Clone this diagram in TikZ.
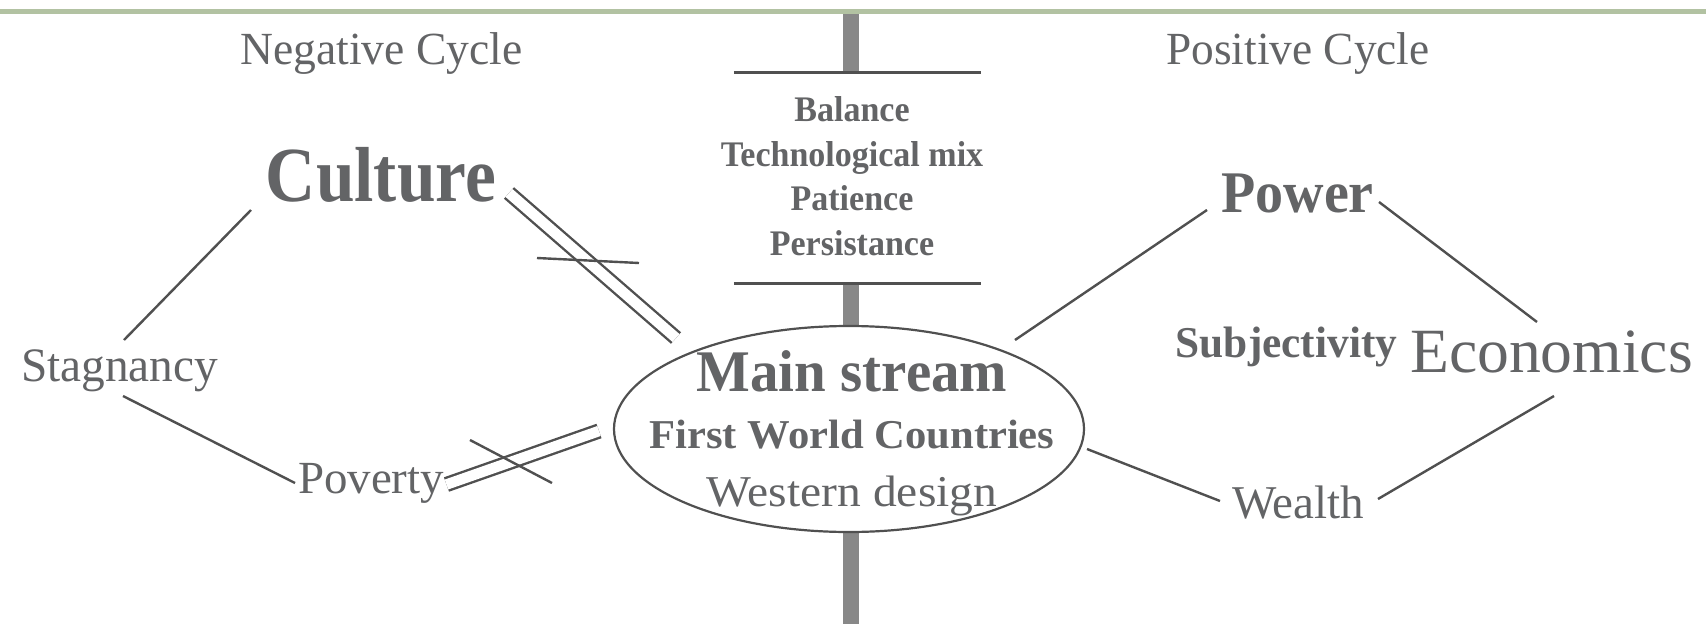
\documentclass[tikz,border=0pt]{standalone}
\usepackage{fontspec}
\setmainfont{Liberation Serif}
\usepackage{graphicx}
\usetikzlibrary{shapes.geometric}
\definecolor{txt}{RGB}{99,100,102}
\definecolor{ln}{RGB}{80,80,80}
\definecolor{barc}{RGB}{136,136,136}
\definecolor{sage}{RGB}{178,194,162}
\newcommand{\fsz}[1]{\fontsize{#1}{#1}\selectfont}
\newcommand{\sxx}[2]{\scalebox{#1}[1]{#2}}
\begin{document}
\begin{tikzpicture}[x=1pt,y=-1pt,
  lbl/.style={anchor=base, inner sep=0pt, outer sep=0pt, text=txt},
  conn/.style={draw=ln, line width=2.4pt},
  dbl/.style={draw=ln, line width=2.4pt, double=white, double distance=10.5pt},
  hline/.style={draw=ln, line width=3pt},
  barline/.style={draw=barc, line width=16pt},
  topline/.style={draw=sage, line width=5pt}]
\useasboundingbox (0,0) rectangle (1706,624);
\fill[white] (0,0) rectangle (1706,624);
% top rule and central bar
\coordinate (bartop) at (851,9);
\coordinate (barbot) at (851,624);
\coordinate (rulel) at (0,11.5);
\coordinate (ruler) at (1706,11.5);
\draw[barline] (bartop) -- (barbot);
\draw[topline] (rulel) -- (ruler);
% virtues block
\node[fill=white, inner sep=0pt, minimum width=247pt, minimum height=210pt] (virt) at (857.5,178) {};
\draw[hline] (virt.north west) -- (virt.north east);
\draw[hline] (virt.south west) -- (virt.south east);
\node[lbl] (bal) at (852,121) {\fsz{36}\bfseries\sxx{0.945}{Balance}};
\node[lbl] (tech) at (852,166) {\fsz{36}\bfseries\sxx{0.945}{Technological mix}};
\node[lbl] (pat) at (852,210) {\fsz{36}\bfseries\sxx{0.945}{Patience}};
\node[lbl] (pers) at (852,255) {\fsz{36}\bfseries\sxx{0.945}{Persistance}};
% main ellipse
\node[ellipse, draw=ln, line width=2.2pt, fill=white, minimum width=470pt, minimum height=206pt, inner sep=0pt] (main) at (849,429) {};
\node[lbl] (ms) at (852,391) {\fsz{59}\bfseries\sxx{0.965}{Main stream}};
\node[lbl] (fwc) at (852,448) {\fsz{41}\bfseries\sxx{1.04}{First World Countries}};
\node[lbl] (wd) at (852,506) {\fsz{44}\sxx{1.08}{Western design}};
% headings
\node[lbl] (neg) at (381.5,64) {\fsz{46}\sxx{0.99}{Negative Cycle}};
\node[lbl] (pos) at (1298,64) {\fsz{46}\sxx{0.985}{Positive Cycle}};
% left cycle
\node[lbl] (cul) at (381,201) {\fsz{78}\bfseries\sxx{0.89}{Culture}};
\node[lbl] (stag) at (119.5,381) {\fsz{48}\sxx{0.985}{Stagnancy}};
\node[lbl] (pov) at (371,493) {\fsz{46}\sxx{1.02}{Poverty}};
% right cycle
\node[lbl] (pow) at (1297.5,212) {\fsz{59}\bfseries\sxx{0.95}{Power}};
\node[lbl] (subj) at (1286.5,357) {\fsz{44}\bfseries\sxx{0.985}{Subjectivity}};
\node[lbl] (econ) at (1551.5,372) {\fsz{63}\sxx{1.01}{Economics}};
\node[lbl] (wea) at (1298,518) {\fsz{47}\sxx{1.0}{Wealth}};
% connector end points
\coordinate (cul-sw) at (251,210);
\coordinate (stag-ne) at (124,340);
\coordinate (stag-se) at (123,396);
\coordinate (pov-w) at (295,483);
\coordinate (cul-se) at (509,193);
\coordinate (main-nw) at (676,338);
\coordinate (pov-e) at (446.5,484.5);
\coordinate (main-w) at (599,431);
\coordinate (main-ne) at (1015,340);
\coordinate (pow-w) at (1207,210);
\coordinate (pow-e) at (1379,202);
\coordinate (econ-nw) at (1537,322);
\coordinate (econ-sw) at (1554,396);
\coordinate (wea-e) at (1378,499);
\coordinate (main-e) at (1087,449);
\coordinate (wea-w) at (1220,501);
% connectors
\draw[conn] (cul-sw) -- (stag-ne);
\draw[conn] (stag-se) -- (pov-w);
\draw[dbl] (cul-se) -- (main-nw);
\draw[dbl] (pov-e) -- (main-w);
\draw[conn] (main-ne) -- (pow-w);
\draw[conn] (pow-e) -- (econ-nw);
\draw[conn] (econ-sw) -- (wea-e);
\draw[conn] (main-e) -- (wea-w);
% strike marks
\coordinate (x1a) at (537,258);
\coordinate (x1b) at (639,263);
\coordinate (x2a) at (470,440);
\coordinate (x2b) at (552,483);
\draw[conn] (x1a) -- (x1b);
\draw[conn] (x2a) -- (x2b);
\end{tikzpicture}
\end{document}
